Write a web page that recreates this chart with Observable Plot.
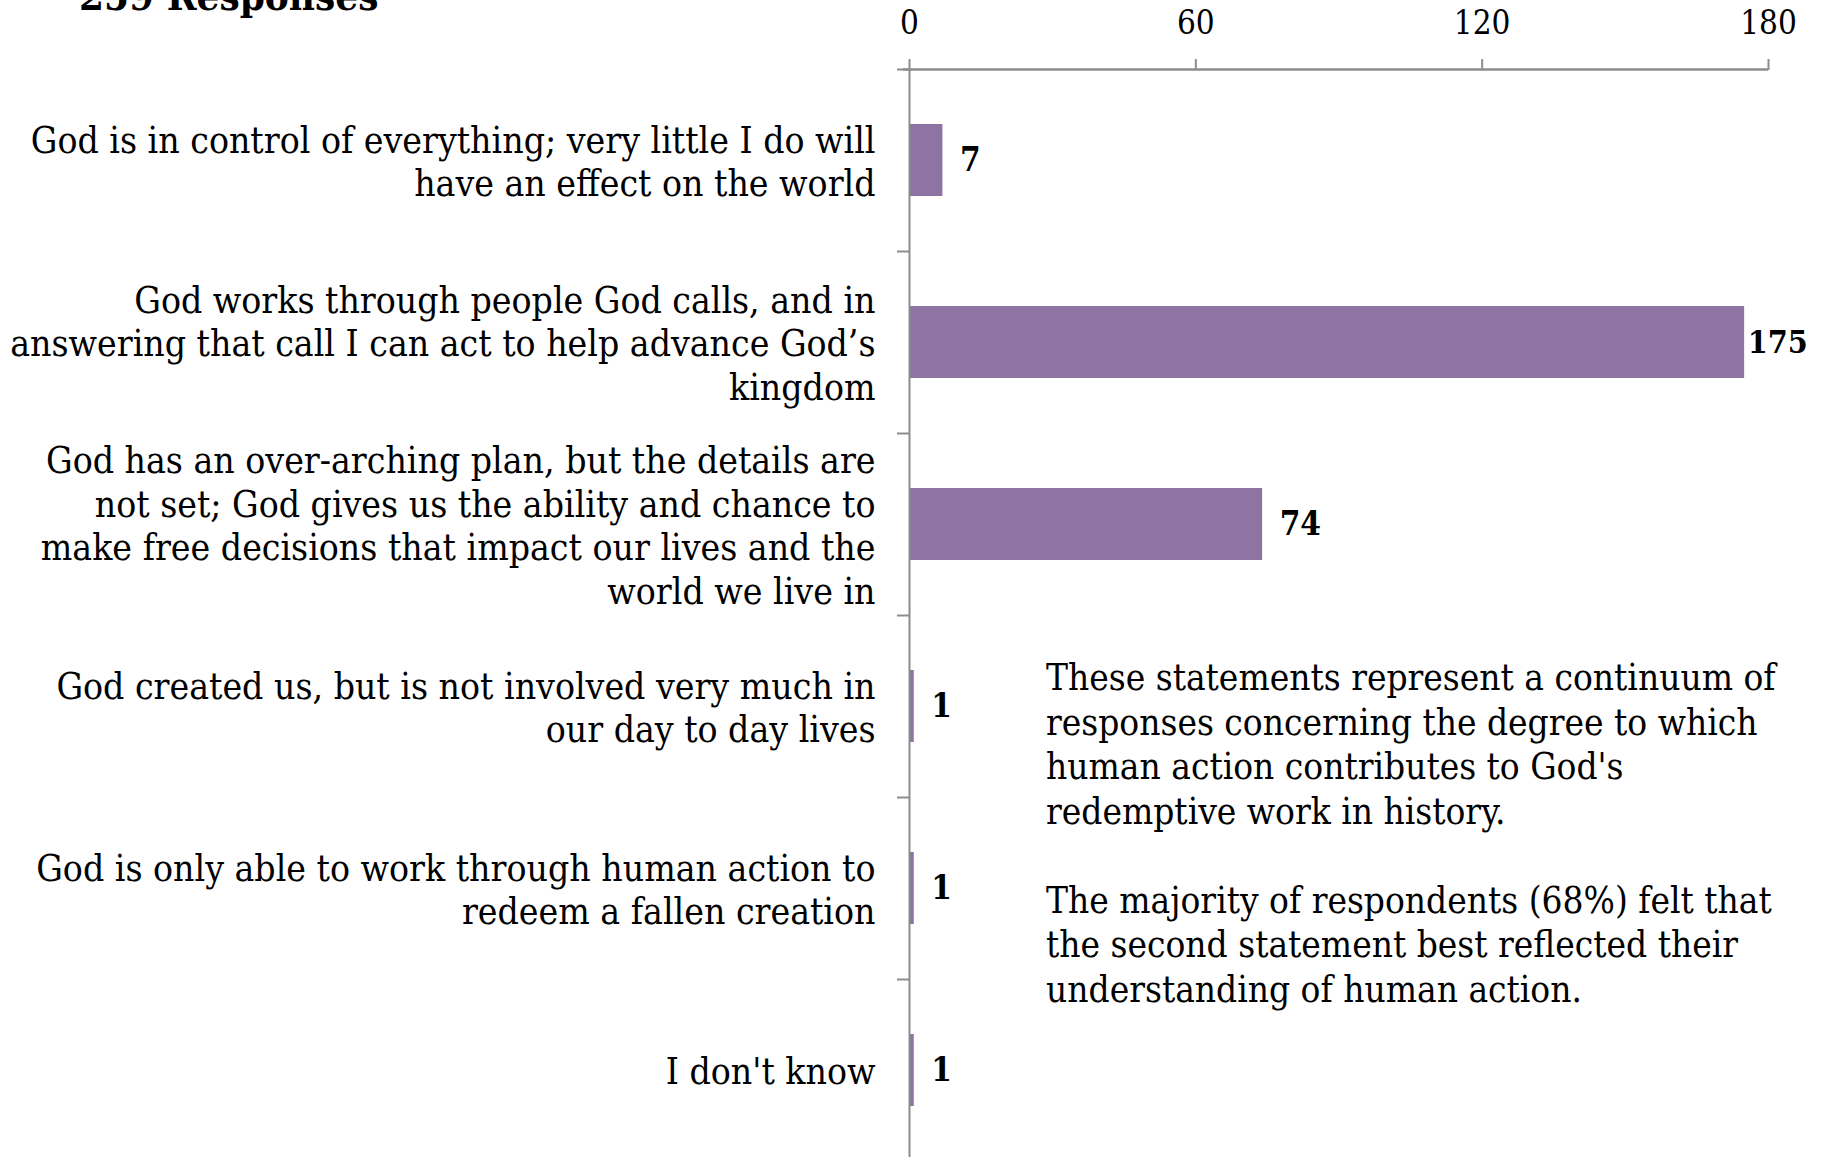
<!DOCTYPE html>
<html>
<head>
<meta charset="utf-8">
<script src="https://cdn.jsdelivr.net/npm/d3@7"></script>
<script src="https://cdn.jsdelivr.net/npm/@observablehq/plot@0.6"></script>
<style>
  html, body { margin: 0; padding: 0; background: #fff; overflow: hidden; width: 1824px; height: 1157px; }
  #wrap { position: relative; width: 1824px; height: 1157px; overflow: hidden; }
  #wrap svg { position: absolute; left: 0; top: 0; }
  #title { position: absolute; left: 79px; top: -24px; font: bold 40px "DejaVu Serif Condensed", "DejaVu Serif", serif; line-height: 1; white-space: nowrap; color: #000; z-index: 2; }
  #note { position: absolute; left: 1046px; top: 656px; font: 36.7px "DejaVu Serif Condensed", "DejaVu Serif", serif; line-height: 44.5px; white-space: pre; color: #000; z-index: 2; }
</style>
</head>
<body>
<div id="wrap">
  <div id="title"></div>
  <div id="note"></div>
</div>
<script>
// ---- data ----
const titleText = "259 Responses";
const categories = [
  "God is in control of everything; very little I do will\nhave an effect on the world",
  "God works through people God calls, and in\nanswering that call I can act to help advance God’s\nkingdom",
  "God has an over-arching plan, but the details are\nnot set; God gives us the ability and chance to\nmake free decisions that impact our lives and the\nworld we live in",
  "God created us, but is not involved very much in\nour day to day lives",
  "God is only able to work through human action to\nredeem a fallen creation",
  "I don't know"
];
const responses = [7, 175, 74, 1, 1, 1];
const xTicks = [0, 60, 120, 180];
const noteLines = [
  "These statements represent a continuum of",
  "responses concerning the degree to which",
  "human action contributes to God's",
  "redemptive work in history.",
  "",
  "The majority of respondents (68%) felt that",
  "the second statement best reflected their",
  "understanding of human action."
];

// ---- build ----
const data = categories.map((c, i) => ({category: c, responses: responses[i]}));
const FONT = '"DejaVu Serif Condensed", "DejaVu Serif", serif';
const GRAY = "#8c8c8c";
const BAR = "#8d74a2";
const W = 1824, H = 1161, MT = 69, MB = 0, ML = 909, MR = 56;
const step = (H - MT - MB) / categories.length;

document.getElementById("title").textContent = titleText;
document.getElementById("note").textContent = noteLines.join("\n");

const chart = Plot.plot({
  width: W,
  height: H,
  marginTop: MT,
  marginBottom: MB,
  marginLeft: ML,
  marginRight: MR,
  style: {fontFamily: FONT, background: "transparent", color: "#000", overflow: "visible"},
  x: {domain: [0, 180], axis: null},
  y: {domain: categories, padding: 0, axis: null},
  marks: [
    Plot.barX(data, {x: "responses", y: "category", fill: BAR, insetTop: 55, insetBottom: 55}),
    Plot.ruleX([0], {stroke: GRAY, strokeWidth: 2}),
    Plot.ruleY(categories, {y: d => d, x1: 0, x2: 0, insetLeft: -12, dy: -step / 2, stroke: GRAY, strokeWidth: 2}),
    Plot.ruleY(categories.slice(0, 1), {y: d => d, x1: 0, x2: 180, insetLeft: -6, dy: -step / 2, stroke: GRAY, strokeWidth: 2.5}),
    Plot.axisX({anchor: "top", ticks: xTicks, tickSize: 11, tickPadding: 25, fontSize: 33, stroke: GRAY, strokeWidth: 2, fill: "#000", label: null}),
    Plot.text(data, {x: 0, y: "category", text: "category", textAnchor: "end", dx: -34, lineHeight: 1.18, fontSize: 37, fill: "#000"}),
    Plot.text(data.filter(d => d.responses < 150), {x: "responses", y: "category", text: d => String(d.responses), textAnchor: "start", dx: 17, fontSize: 33, fontWeight: "bold", fill: "#000"}),
    Plot.text(data.filter(d => d.responses >= 150), {x: "responses", y: "category", text: d => String(d.responses), textAnchor: "start", dx: 3, fontSize: 32, fontWeight: "bold", fill: "#000"})
  ]
});
document.getElementById("wrap").appendChild(chart);
</script>
</body>
</html>
